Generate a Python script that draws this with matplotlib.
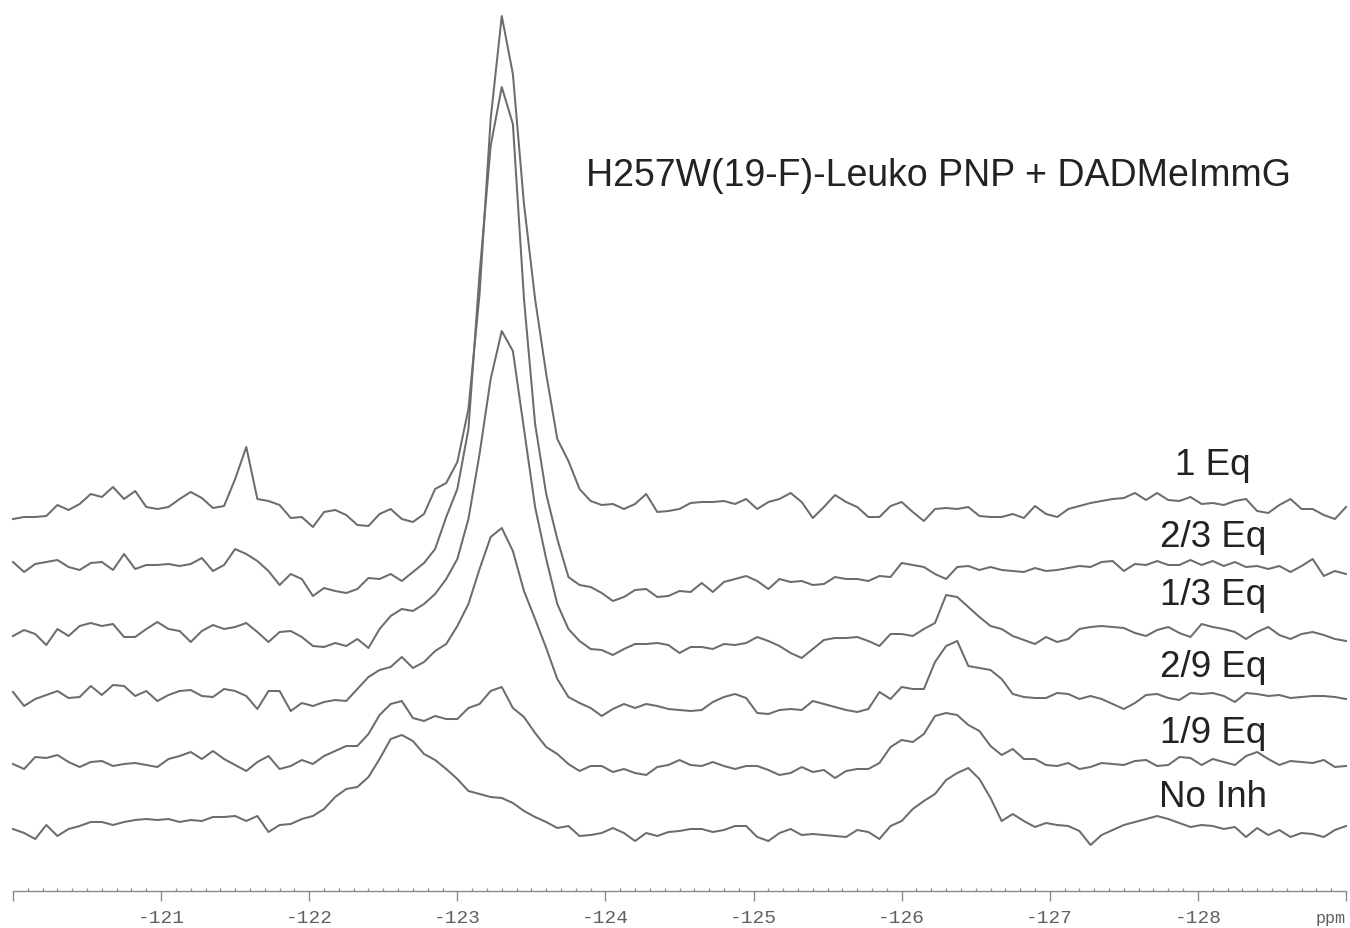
import numpy as np
import matplotlib
matplotlib.use("Agg")
import matplotlib.pyplot as plt
from matplotlib.ticker import FixedLocator, FixedFormatter, MultipleLocator

# ---------------- data ----------------
# chemical shift grid (ppm), 0.075 ppm spacing from -120 to -129
ppm = np.linspace(-120.0, -129.0, 121)

labels = ["1 Eq", "2/3 Eq", "1/3 Eq", "2/9 Eq", "1/9 Eq", "No Inh"]

int_1eq = [
    -5, -3, -3, -2, 9, 4, 10, 20, 17, 27,
    15, 23, 7, 5, 7, 15, 22, 16, 6, 8,
    35, 67, 15, 13, 9, -4, -3, -13, 2, 4,
    -1, -11, -12, 0, 5, -5, -8, 0, 25, 31,
    52, 105, 220, 395, 498, 440, 310, 215, 140, 75,
    53, 25, 13, 9, 10, 5, 10, 20, 2, 3,
    5, 11, 12, 12, 13, 10, 15, 5, 12, 15,
    21, 12, -4, 7, 19, 12, 7, -3, -3, 8,
    12, 2, -7, 5, 6, 5, 7, -2, -3, -3,
    0, -4, 8, 0, -3, 5, 8, 11, 13, 15,
    16, 21, 14, 21, 14, 13, 17, 10, 11, 9,
    13, 15, 3, 1, 9, 15, 5, 5, -1, -5,
    7]

int_2_3eq = [
    12, 2, 10, 12, 14, 7, 4, 11, 12, 4,
    20, 5, 9, 9, 10, 8, 10, 16, 3, 9,
    25, 20, 13, 3, -11, 0, -5, -22, -14, -17,
    -19, -15, -4, -5, 0, -7, 2, 11, 25, 57,
    85, 145, 300, 428, 487, 450, 275, 150, 80, 35,
    -3, -11, -13, -19, -27, -23, -16, -15, -23, -22,
    -17, -18, -9, -18, -8, -5, -2, -7, -15, -5,
    -8, -7, -11, -10, -3, -5, -5, -7, -2, -3,
    11, 9, 7, 0, -5, 7, 8, 4, 7, 4,
    3, 2, 6, 3, 4, 6, 8, 7, 12, 13,
    3, 10, 9, 13, 9, 9, 14, 9, 13, 8,
    12, 7, 8, 5, 8, 2, 8, 15, -2, 3,
    0]

int_1_3eq = [
    3, 9, 5, -6, 10, 3, 13, 16, 13, 15,
    2, 2, 10, 17, 10, 8, -3, 8, 14, 10,
    12, 16, 7, -3, 7, 8, 2, -7, -8, -4,
    -7, 0, -9, 10, 23, 30, 28, 35, 45, 60,
    80, 120, 185, 260, 308, 288, 210, 132, 80, 35,
    10, -2, -10, -11, -16, -10, -5, -5, -4, -6,
    -14, -8, -8, -10, -5, -6, -4, 2, -2, -7,
    -14, -19, -10, -1, 1, 1, 2, -2, -7, 5,
    5, 3, 10, 16, 44, 42, 32, 22, 13, 10,
    3, -1, -5, 2, -3, 0, 10, 12, 13, 12,
    11, 6, 3, 9, 12, 6, 2, 15, 12, 10,
    7, 0, 7, 12, 4, 0, 5, 7, 4, 0,
    -2]

int_2_9eq = [
    7, -7, 0, 4, 8, 1, 2, 13, 4, 14,
    13, 3, 8, -2, 4, 8, 9, 3, 2, 10,
    8, 3, -10, 8, 8, -12, -4, -7, -3, -1,
    -2, 10, 22, 29, 32, 42, 31, 37, 48, 55,
    73, 95, 130, 162, 171, 148, 108, 80, 51, 20,
    2, -4, -9, -17, -10, -5, -9, -5, -7, -10,
    -11, -12, -11, -3, 2, 5, 1, -14, -15, -11,
    -10, -11, -2, -5, -8, -11, -13, -10, 7, 0,
    12, 10, 10, 37, 53, 58, 33, 31, 29, 20,
    5, 2, 1, 1, 6, 5, 0, 3, 0, -5,
    -10, -4, 4, 5, 1, -1, 6, 5, 6, 3,
    -3, 6, 5, 3, 4, 1, 2, 3, 3, 2,
    0]

int_1_9eq = [
    0, -5, 7, 6, 9, 2, -3, 2, 3, -2,
    0, 1, -1, -3, 5, 8, 12, 5, 13, 5,
    -1, -7, 2, 8, -5, -2, 4, 0, 8, 13,
    18, 18, 30, 49, 60, 63, 46, 43, 48, 45,
    45, 56, 60, 73, 77, 56, 47, 31, 17, 10,
    0, -7, -2, -2, -8, -5, -9, -11, -3, -1,
    4, -1, -2, 2, -2, -5, -2, -2, -6, -11,
    -9, -3, -8, -6, -14, -7, -5, -5, 1, 17,
    24, 22, 30, 48, 51, 49, 39, 33, 18, 9,
    15, 5, 5, -1, -2, 1, -5, -3, 1, 0,
    -1, 3, 4, -2, -1, 7, 6, -1, 5, 2,
    -1, 8, 12, 5, -1, 3, 2, 1, 4, -3,
    -2]

int_noinh = [
    0, -4, -10, 4, -7, 0, 3, 7, 7, 4,
    7, 9, 10, 9, 10, 7, 9, 8, 12, 12,
    13, 8, 13, -3, 4, 5, 10, 13, 20, 32,
    40, 42, 52, 70, 90, 94, 88, 75, 69, 60,
    50, 38, 35, 32, 31, 26, 18, 12, 7, 1,
    3, -7, -6, -4, 1, -4, -12, -4, -7, -3,
    -2, 0, 0, -3, -1, 3, 3, -8, -12, -4,
    0, -6, -5, -6, -7, -8, -1, -3, -10, 3,
    8, 20, 28, 35, 49, 56, 61, 50, 31, 8,
    15, 8, 2, 6, 4, 3, -2, -16, -6, -1,
    4, 7, 10, 13, 10, 6, 2, 4, 3, 0,
    2, -8, 1, -6, -1, -8, -4, -5, -8, -1,
    3]

spectra = [int_1eq, int_2_3eq, int_1_3eq, int_2_9eq, int_1_9eq, int_noinh]

major_ticks = [-120, -121, -122, -123, -124, -125, -126, -127, -128, -129]
major_labels = ["", "-121", "-122", "-123", "-124", "-125", "-126", "-127", "-128", ""]

title = "H257W(19-F)-Leuko PNP + DADMeImmG"

# ---------------- layout / style ----------------
W, H = 1350, 929
stack_offsets = [414, 354, 289, 229, 164, 99]          # vertical stacking of traces
label_baselines = [475, 547, 605, 677, 743, 807]      # pixel rows of label baselines
label_x = 1213
line_color = "#6c6c6c"

fig = plt.figure(figsize=(W / 100, H / 100), dpi=100)
ax = fig.add_axes([0, 0, 1, 1])
ax.set_xlim(-120.0 + 13 / 148.1, -129.0 - 4 / 148.1)
ax.set_ylim(0, H)

for off, vals in zip(stack_offsets, spectra):
    ax.plot(ppm, off + np.asarray(vals, dtype=float), color=line_color, lw=1.45,
            solid_joinstyle="round")

# axis
for s in ["top", "left", "right"]:
    ax.spines[s].set_visible(False)
ax.spines["bottom"].set_position(("data", H - 892))
ax.spines["bottom"].set_bounds(-120, -129)
ax.spines["bottom"].set_color("#8a8a8a")
ax.spines["bottom"].set_linewidth(1.0)
ax.yaxis.set_visible(False)
ax.xaxis.set_major_locator(FixedLocator(major_ticks))
ax.xaxis.set_major_formatter(FixedFormatter(major_labels))
ax.xaxis.set_minor_locator(MultipleLocator(0.1))
ax.tick_params(axis="x", which="major", direction="out", length=7, width=1.0,
               color="#8a8a8a", pad=6, labelsize=14, labelcolor="#606060")
ax.tick_params(axis="x", which="minor", direction="in", length=2.5, width=0.9,
               color="#8a8a8a")
for t in ax.get_xticklabels():
    t.set_family("Liberation Mono")

ax.text(-129.0, H - 923, "ppm", ha="right", va="baseline", fontsize=12,
        family="Liberation Mono", color="#606060")

fig.text(938 / W, 1 - 186 / H, title, ha="center", va="baseline",
         fontsize=27, family="Liberation Sans", color="#222222")
for lab, yb in zip(labels, label_baselines):
    fig.text(label_x / W, 1 - yb / H, lab, ha="center", va="baseline",
             fontsize=26.5, family="Liberation Sans", color="#222222")

fig.savefig("out.png", dpi=100, facecolor="white")
